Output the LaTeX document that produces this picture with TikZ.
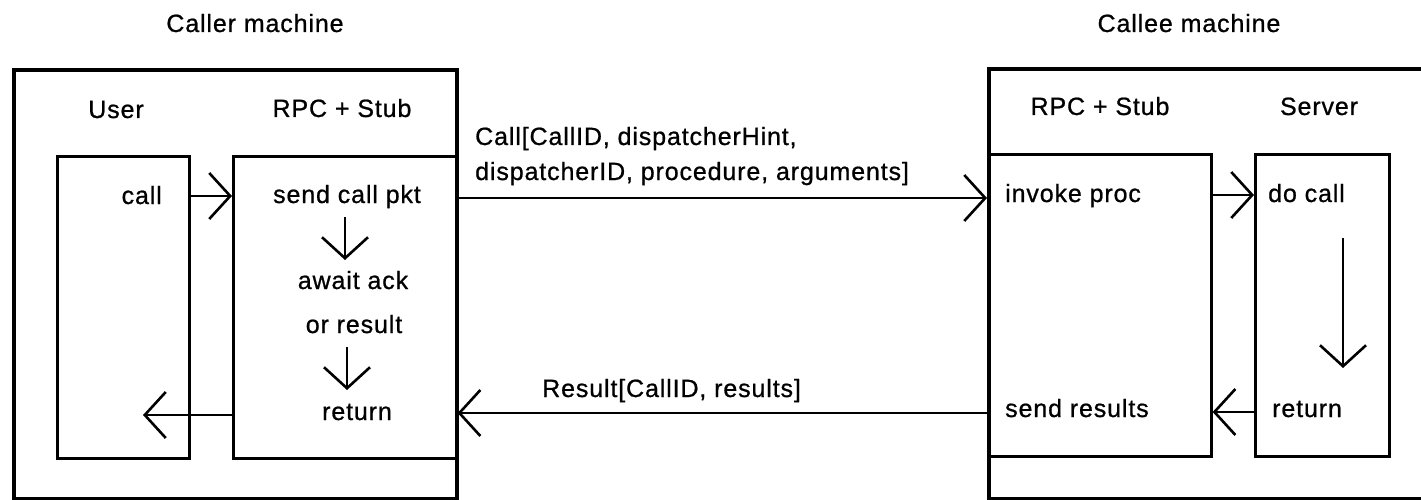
\documentclass[tikz,border=0pt]{standalone}
\usepackage{fontspec}
\setmainfont{Liberation Sans}[LetterSpace=3.5,FakeBold=0.8]
\usetikzlibrary{arrows.meta}

\begin{document}
\begin{tikzpicture}[x=1pt,y=-1pt,
  every node/.style={inner sep=0pt, font=\fontsize{25}{30}\selectfont},
  machine/.style={draw, line width=4pt, anchor=north west},
  part/.style={draw, line width=2.6pt, anchor=north west},
  arr/.style={line width=2.6pt,
    -{Straight Barb[length=21pt,width=46pt,line width=2.6pt]}},
  lbl/.style={anchor=base},
  lbll/.style={anchor=base west},
  lblr/.style={anchor=base east},
]
\useasboundingbox (0,0) rectangle (1421,500);
\clip (0,0) rectangle (1421,500);

% machine titles
\node[lbl] (callerT) at (255,32) {Caller machine};
\node[lbl] (calleeT) at (1189,32) {Callee machine};

% machine frames (the callee frame runs off the right edge)
\node[machine, minimum width=443pt, minimum height=429pt] (caller) at (12,68) {};
\node[machine, minimum width=480pt, minimum height=430pt] (callee) at (987,67) {};

% caller side parts
\node[part, minimum width=132pt, minimum height=302pt] (user) at (56,155) {};
\node[part, minimum width=223pt, minimum height=302pt] (stubL) at (232,155) {};
\node[lbl] (userT) at (116,118) {User};
\node[lbl] (stubLT) at (342,117) {RPC + Stub};
\node[lblr] (callTxt) at (162,204) {call};
\node[lbl] (sendPkt) at (347,203) {send call pkt};
\node[lbl] (await) at (353,289) {await ack};
\node[lbl] (orRes) at (354,333) {or result};
\node[lbl] (retL) at (357,420) {return};

% callee side parts
\node[part, minimum width=223pt, minimum height=302pt] (stubR) at (987,153) {};
\node[part, minimum width=134pt, minimum height=302pt] (server) at (1254,153) {};
\node[lbl] (stubRT) at (1100,115) {RPC + Stub};
\node[lbl] (serverT) at (1319,115) {Server};
\node[lbll] (invoke) at (1005,202) {invoke proc};
\node[lbll] (doCall) at (1268,202) {do call};
\node[lbll] (retR) at (1272,417) {return};
\node[lbll] (sendRes) at (1005,417) {send results};

% packet labels
\node[lbll] (msgA) at (475,145) {Call[CallID, dispatcherHint,};
\node[lbll] (msgB) at (475,180) {dispatcherID, procedure, arguments]};
\node[lbll] (msgC) at (542,397) {Result[CallID, results]};

% rows and flow points
\coordinate (rowCall) at (0,196);
\coordinate (rowRet) at (0,415);
\coordinate (rowPkt) at (0,198);
\coordinate (rowRes) at (0,413);
\coordinate (rowInv) at (0,195);
\coordinate (rowSrv) at (0,412);
\coordinate (retTip) at (143,415);
\coordinate (d1a) at (345,217);
\coordinate (d1b) at (345,260);
\coordinate (d2a) at (347,347);
\coordinate (d2b) at (347,390);
\coordinate (d3a) at (1343,238);
\coordinate (d3b) at (1343,368);

% connectors
\draw[arr] (user.east |- rowCall) -- (stubL.west |- rowCall);
\draw[arr] (d1a) -- (d1b);
\draw[arr] (d2a) -- (d2b);
\draw[arr] (stubL.west |- rowRet) -- (retTip);
\draw[arr] (stubL.east |- rowPkt) -- (stubR.west |- rowPkt);
\draw[arr] (stubR.west |- rowRes) -- (stubL.east |- rowRes);
\draw[arr] (stubR.east |- rowInv) -- (server.west |- rowInv);
\draw[arr] (d3a) -- (d3b);
\draw[arr] (server.west |- rowSrv) -- (stubR.east |- rowSrv);
\end{tikzpicture}
\end{document}
